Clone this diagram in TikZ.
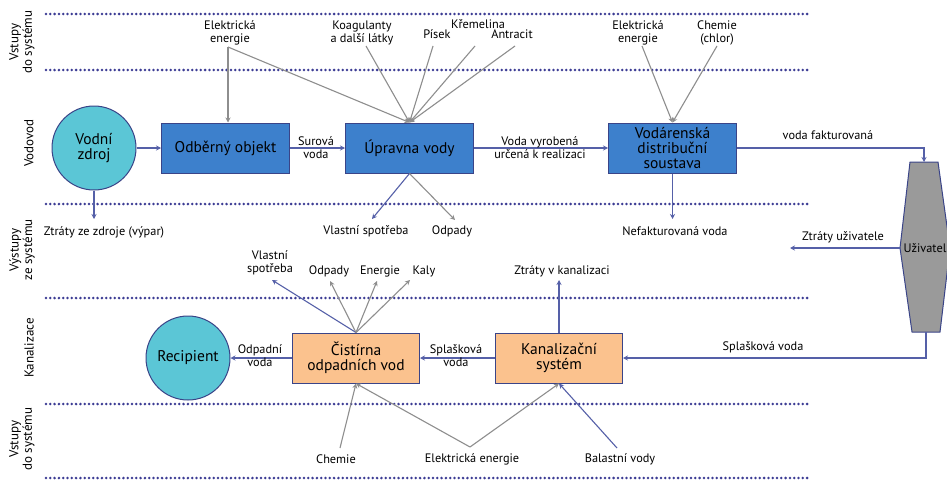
\documentclass[tikz,border=0pt]{standalone}
\usepackage{fontspec}
\setmainfont{PT Sans}
\usetikzlibrary{arrows.meta}

\definecolor{flow}{HTML}{5560A8}
\definecolor{feed}{HTML}{8E8E8E}
\definecolor{sep}{HTML}{3C3C94}
\definecolor{waterbox}{HTML}{3D80CC}
\definecolor{sewerbox}{HTML}{FBC28E}
\definecolor{pool}{HTML}{5BC6D6}
\definecolor{edge}{HTML}{3A4488}
\definecolor{userfill}{HTML}{9A9A9A}

\tikzset{
  wbox/.style={draw=edge, fill=waterbox, line width=1pt, minimum width=128, minimum height=50,
    inner sep=0, align=center, font=\fontsize{15.5}{15}\selectfont},
  sbox/.style={draw=edge, fill=sewerbox, line width=1pt, minimum width=127, minimum height=50,
    inner sep=0, align=center, font=\fontsize{15.5}{15}\selectfont},
  pond/.style={circle, draw=edge, fill=pool, line width=1pt, minimum size=84, inner sep=0,
    align=center, font=\fontsize{15.5}{15}\selectfont},
  lbl/.style={align=center, inner sep=0, font=\fontsize{12.3}{13}\selectfont},
  side/.style={rotate=90, align=center, inner sep=0, font=\fontsize{13}{13.5}\selectfont},
  flowline/.style={draw=flow, line width=1.1pt, -{Stealth[length=5pt,width=5pt]}},
  feedline/.style={draw=feed, line width=1.1pt, -{Stealth[length=5pt,width=5pt]}},
  sepline/.style={draw=sep, line width=2.8pt, line cap=round, dash pattern=on 0pt off 4.3pt},
}

\begin{document}
\begin{tikzpicture}[x=1pt,y=-1pt]
\useasboundingbox[fill=white] (0,0) rectangle (947,479);

% zone separators
\foreach \yy in {14,70,204,298,404,478}
  \draw[sepline] (46,\yy) -- (810,\yy);

% zone titles
\node[side] (zin1) at (22,42) {Vstupy\\do systému};
\node[side] (zvod) at (29,143) {Vodovod};
\node[side] (zout) at (22,250) {Výstupy\\ze systému};
\node[side] (zkan) at (29,348) {Kanalizace};
\node[side] (zin2) at (22,439) {Vstupy\\do systému};

% water supply chain
\node[pond] (zdroj) at (94,148) {Vodní\\zdroj};
\node[wbox] (odber) at (225.5,148) {Odběrný objekt};
\node[wbox] (uprav) at (409.5,148) {Úpravna vody};
\node[wbox] (distr) at (672.5,148) {Vodárenská\\distribuční\\soustava};

% user
\coordinate (uTop) at (924,162);
\coordinate (uBot) at (926,332);
\coordinate (uLeft) at (900,248);
\draw[draw=edge, fill=userfill, line width=1pt]
  (910,162) -- (938,162) -- (950,248) -- (940,332) -- (912,332) -- (900,248) -- cycle;
\node[lbl] (user) at (925,248) {Uživatel};

% sewer chain
\node[sbox] (kanal) at (559,358) {Kanalizační\\systém};
\node[sbox] (cist) at (356,358) {Čistírna\\odpadních vod};
\node[pond] (recip) at (188,358) {Recipient};

% main flows
\draw[flowline] (zdroj.east) -- (odber.west);
\draw[flowline] (odber.east) -- (uprav.west);
\node[lbl] (lsur) at (316,148) {Surová\\voda};
\draw[flowline] (uprav.east) -- (distr.west);
\node[lbl] (lvyr) at (540,148) {Voda vyrobená\\určená k realizaci};
\draw[flowline] (distr.east) -| (uTop);
\node[lbl] (lfakt) at (828,135) {voda fakturovaná};
\draw[flowline] (uBot) |- (kanal.east);
\node[lbl] (lspl) at (763,347) {Splašková voda};
\draw[flowline] (kanal.west) -- (cist.east);
\node[lbl] (lspl2) at (456,356) {Splašková\\voda};
\draw[flowline] (cist.west) -- (recip.east);
\node[lbl] (lodp) at (260,356) {Odpadní\\voda};

% losses of the water supply
\coordinate (zLoss) at (94,219);
\draw[flowline] (zdroj.south) -- (zLoss);
\node[lbl] (lzz) at (104,232) {Ztráty ze zdroje (výpar)};

\coordinate (uSelf) at (372,219);
\coordinate (uWaste) at (455,220);
\draw[flowline] (uprav.south) -- (uSelf);
\draw[feedline] (uprav.south) -- (uWaste);
\node[lbl] (lvs) at (366,231) {Vlastní spotřeba};
\node[lbl] (lod) at (452,231) {Odpady};

\coordinate (dLoss) at (672.5,219);
\draw[flowline] (distr.south) -- (dLoss);
\node[lbl] (lnef) at (675,231) {Nefakturovaná voda};

\coordinate (uLoss) at (790,248);
\draw[flowline] (uLeft) -- (uLoss);
\node[lbl] (lzu) at (843,237) {Ztráty uživatele};

% inputs of the water supply
\node[lbl] (ie1) at (230,33) {Elektrická\\energie};
\node[lbl] (ikoag) at (362,33) {Koagulanty\\a další látky};
\node[lbl] (ipis) at (437,34) {Písek};
\node[lbl] (ikrem) at (478,24) {Křemelina};
\node[lbl] (iantr) at (512,34) {Antracit};
\node[lbl] (ie2) at (638,33) {Elektrická\\energie};
\node[lbl] (ichl) at (717,33) {Chemie\\(chlor)};

\coordinate (se1) at (228,47);
\coordinate (skoag) at (366,46);
\coordinate (spis) at (433,46);
\coordinate (skrem) at (475,46);
\coordinate (santr) at (515,46);
\coordinate (se2) at (642,46);
\coordinate (schl) at (717,46);

\draw[feedline] (se1) -- (se1 |- odber.north);
\draw[feedline] (se1) -- (uprav.north);
\draw[feedline] (skoag) -- (uprav.north);
\draw[feedline] (spis) -- (uprav.north);
\draw[feedline] (skrem) -- (uprav.north);
\draw[feedline] (santr) -- (uprav.north);
\draw[feedline] (se2) -- (distr.north);
\draw[feedline] (schl) -- (distr.north);

% outputs of the sewer system
\coordinate (cSelf) at (272,280);
\coordinate (cWaste) at (330,281);
\coordinate (cEnergy) at (377,281);
\coordinate (cSludge) at (410,280);
\coordinate (kLoss) at (559,280);
\draw[flowline] (cist.north) -- (cSelf);
\draw[feedline] (cist.north) -- (cWaste);
\draw[feedline] (cist.north) -- (cEnergy);
\draw[feedline] (cist.north) -- (cSludge);
\draw[flowline] (kanal.north) -- (kLoss);
\node[lbl] (ovs) at (270,263) {Vlastní\\spotřeba};
\node[lbl] (oodp) at (329,271) {Odpady};
\node[lbl] (oen) at (380,271) {Energie};
\node[lbl] (okal) at (424,271) {Kaly};
\node[lbl] (okl) at (562,271) {Ztráty v kanalizaci};

% inputs of the sewer system
\node[lbl] (kchem) at (336,459) {Chemie};
\node[lbl] (ken) at (472,459) {Elektrická energie};
\node[lbl] (kbal) at (620,459) {Balastní vody};
\coordinate (schem) at (340,448);
\coordinate (sen) at (470,447);
\coordinate (sbal) at (617,448);
\draw[feedline] (schem) -- (cist.south);
\draw[feedline] (sen) -- (cist.south);
\draw[feedline] (sen) -- (kanal.south);
\draw[flowline] (sbal) -- (kanal.south);

\end{tikzpicture}
\end{document}
